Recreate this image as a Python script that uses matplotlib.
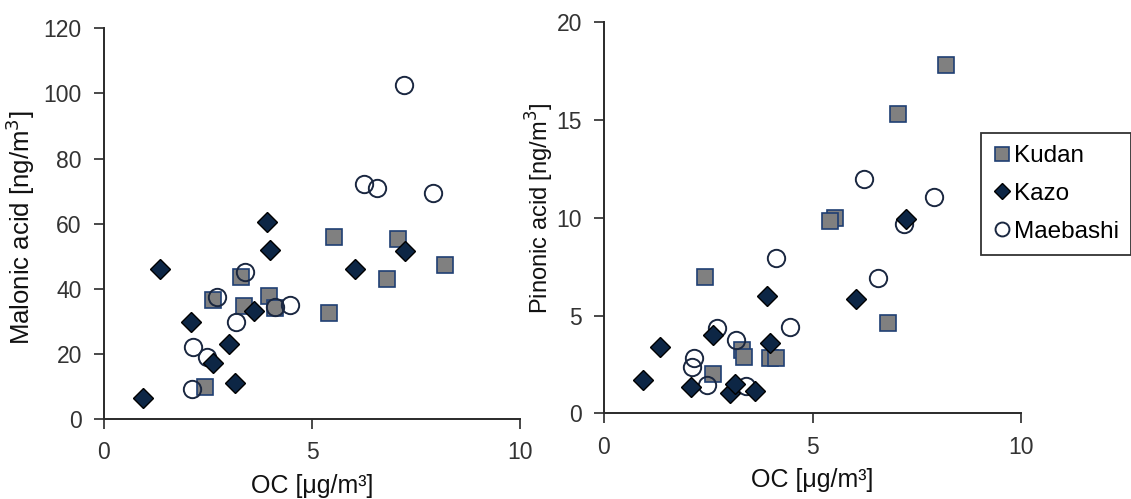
import matplotlib
matplotlib.use("Agg")
import matplotlib.pyplot as plt
from matplotlib.lines import Line2D

plt.rcParams['font.family'] = ['Liberation Sans', 'DejaVu Sans']

# ---- data ----
sites = ["Kudan", "Kazo", "Maebashi"]

kudan_oc = [8.20, 7.06, 5.53, 5.42, 6.81, 3.30, 3.36, 2.62, 3.97, 4.12, 2.43]
kudan_malonic = [47.4, 55.2, 55.9, 32.7, 42.9, 43.5, 34.8, 36.4, 37.9, 34.0, 9.9]
kudan_pinonic = [17.8, 15.3, 9.97, 9.82, 4.64, 3.24, 2.86, 2.01, 2.83, 2.83, 6.96]

kazo_oc = [1.35, 3.92, 3.98, 6.04, 7.24, 2.09, 3.61, 3.01, 2.61, 3.14, 0.93]
kazo_malonic = [46.1, 60.5, 51.8, 46.1, 51.6, 29.7, 33.3, 23.1, 17.3, 11.2, 6.4]
kazo_pinonic = [3.41, 6.0, 3.61, 5.83, 9.92, 1.36, 1.16, 1.05, 4.0, 1.50, 1.70]

maebashi_oc = [7.20, 6.24, 6.56, 7.92, 3.40, 2.71, 4.47, 4.12, 3.17, 2.15, 2.47, 2.12]
maebashi_malonic = [102.6, 72.3, 71.1, 69.4, 45.0, 37.5, 35.0, 34.3, 29.8, 22.0, 18.9, 9.3]
maebashi_pinonic = [9.68, 12.0, 6.9, 11.05, 1.41, 4.35, 4.40, 7.96, 3.75, 2.81, 1.45, 2.38]

x_ticks = [0, 5, 10]
malonic_ticks = [0, 20, 40, 60, 80, 100, 120]
pinonic_ticks = [0, 5, 10, 15, 20]

# ---- styles ----
W, H = 1131, 499
fig = plt.figure(figsize=(W / 100, H / 100), dpi=100)

def px_axes(l, r, t, b):
    return fig.add_axes([l / W, (H - b) / H, (r - l) / W, (b - t) / H])

sq_style = dict(marker='s', ms=12.0, mfc='#808080', mec='#1f3f73', mew=1.2, ls='none')
dia_style = dict(marker='D', ms=10.0, mfc='#0d2645', mec='#000000', mew=1.0, ls='none')
cir_style = dict(marker='o', ms=12.5, mfc='none', mec='#1a2740', mew=1.4, ls='none')

tick_col = '#333333'
spine_col = '#2a2a2a'

def style_axes(ax, yticks, ylim, ylabel, ylabel_size, ylabel_xy):
    ax.set_xlim(0, 10)
    ax.set_ylim(*ylim)
    ax.set_xticks(x_ticks)
    ax.set_yticks(yticks)
    for s in ['top', 'right']:
        ax.spines[s].set_visible(False)
    for s in ['left', 'bottom']:
        ax.spines[s].set_color(spine_col)
        ax.spines[s].set_linewidth(1.4)
    ax.tick_params(axis='both', direction='out', length=7, width=1.2,
                   color=spine_col, labelcolor=tick_col, labelsize=16.5, pad=9)
    ax.set_xlabel("OC [μg/m³]", fontsize=18, color='#111111', labelpad=7)
    ax.set_ylabel(ylabel, fontsize=ylabel_size, color='#111111',
                  va='center', ha='center')
    ax.yaxis.set_label_coords(*ylabel_xy)
    for sp in ax.spines.values():
        sp.set_clip_on(False)

# left panel
ax1 = px_axes(104, 520, 28.3, 419)
ax1.plot(kudan_oc, kudan_malonic, zorder=3, clip_on=False, **sq_style)
ax1.plot(maebashi_oc, maebashi_malonic, zorder=4, clip_on=False, **cir_style)
ax1.plot(kazo_oc, kazo_malonic, zorder=5, clip_on=False, **dia_style)
style_axes(ax1, malonic_ticks, (0, 120), "Malonic acid [ng/m$^3$]", 18.5,
           ((20 - 104) / 416, (419 - 228) / 390.7))

# right panel
ax2 = px_axes(604, 1021, 22.3, 413.3)
ax2.plot(kudan_oc, kudan_pinonic, zorder=3, clip_on=False, **sq_style)
ax2.plot(maebashi_oc, maebashi_pinonic, zorder=4, clip_on=False, **cir_style)
ax2.plot(kazo_oc, kazo_pinonic, zorder=5, clip_on=False, **dia_style)
style_axes(ax2, pinonic_ticks, (0, 20), "Pinonic acid [ng/m$^3$]", 17,
           ((540 - 604) / 417, (413.3 - 208) / 391))

handles = [Line2D([], [], **sq_style), Line2D([], [], **dia_style), Line2D([], [], **cir_style)]
leg = fig.legend(handles, sites, loc='upper left',
                 bbox_to_anchor=(981 / W, (H - 133) / H),
                 frameon=True, fancybox=False, fontsize=17.5, markerscale=0.8,
                 handlelength=0.7, handletextpad=0.15, labelspacing=0.65,
                 borderpad=0.5, borderaxespad=0, edgecolor='#000000')
leg.get_frame().set_linewidth(1.3)

fig.savefig("out.png", dpi=100, facecolor='white')
